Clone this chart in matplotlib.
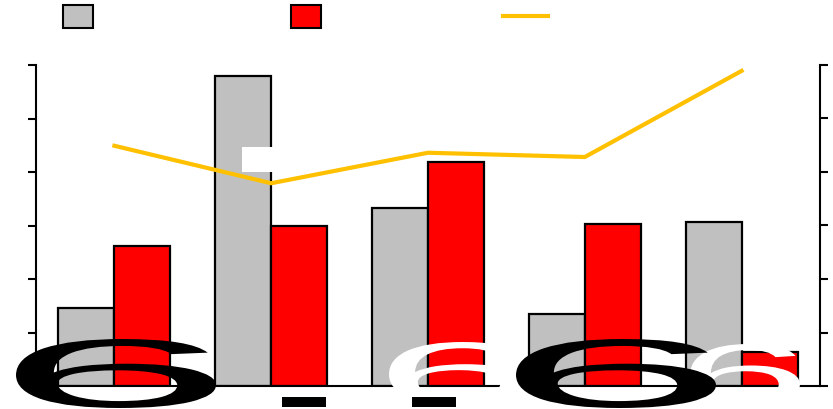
import numpy as np
import matplotlib.pyplot as plt
from matplotlib.patches import Rectangle, PathPatch
from matplotlib.textpath import TextPath
from matplotlib.font_manager import FontProperties
import matplotlib.transforms as mtransforms

# 数据
categories = ['1', '2', '3', '4', '5']
grey_vals = [14.6, 57.9, 33.3, 13.5, 30.7]
red_vals = [26.2, 29.9, 41.9, 30.3, 6.4]
line_vals = [4.49, 3.79, 4.36, 4.28, 5.89]

W, H = 833, 410
fig = plt.figure(figsize=(W / 100, H / 100), dpi=100)
fig.patch.set_facecolor('white')

def px_box(x0, y0, x1, y1):
    # 像素坐标（左上为原点）转为 figure 坐标
    return x0 / W, 1 - y1 / H, (x1 - x0) / W, (y1 - y0) / H

ax = fig.add_axes([36 / W, 1 - 387 / H, (820 - 36) / W, (387 - 66) / H])
ax2 = ax.twinx()

x = np.arange(len(categories))
bw = 0.357
ax.bar(x - bw / 2, grey_vals, width=bw, color='#C0C0C0', edgecolor='black', linewidth=1.6)
ax.bar(x + bw / 2, red_vals, width=bw, color='#FF0000', edgecolor='black', linewidth=1.6)
ax2.plot(x, line_vals, color='#FFC000', linewidth=3)

ax.set_xlim(-0.5, len(categories) - 0.5)
ax.set_ylim(0, 60)
ax2.set_ylim(0, 6)
ax.set_yticks(np.arange(0, 61, 10))
ax2.set_yticks(np.arange(0, 7, 1))
ax.set_xticks([])
for a in (ax, ax2):
    a.tick_params(axis='y', length=6, width=1.5, labelleft=False, labelright=False)
    a.spines['top'].set_visible(False)
    for s in ('left', 'right', 'bottom'):
        a.spines[s].set_linewidth(1.5)
ax.spines['right'].set_visible(False)
ax2.spines['left'].set_visible(False)
ax2.spines['bottom'].set_visible(False)
ax.set_zorder(1)
ax2.set_zorder(2)
ax.patch.set_visible(False)
ax2.patch.set_visible(False)

# 白色标注框
fig.add_artist(Rectangle(px_box(242, 148, 296, 173)[:2], 54 / W, 25 / H,
                         transform=fig.transFigure, facecolor='white', edgecolor='none', zorder=5))

# 图例
fig.add_artist(Rectangle(px_box(63, 6, 93, 29)[:2], 30 / W, 23 / H, transform=fig.transFigure,
                         facecolor='#C0C0C0', edgecolor='black', linewidth=1.5))
fig.add_artist(Rectangle(px_box(291, 6, 321, 29)[:2], 30 / W, 23 / H, transform=fig.transFigure,
                         facecolor='#FF0000', edgecolor='black', linewidth=1.5))
fig.add_artist(plt.Line2D([503 / W, 548 / W], [1 - 17 / H, 1 - 17 / H], transform=fig.transFigure,
                          color='#FFC000', linewidth=3))

# 底部的大号“6”字形（被拉伸）
fp = FontProperties(family='Liberation Sans')
def big_glyph(ch, x0, y0, x1, y1, color):
    tp = TextPath((0, 0), ch, size=1, prop=fp)
    ext = tp.get_extents()
    sx = (x1 - x0) / ext.width
    sy = (y1 - y0) / ext.height
    tr = (mtransforms.Affine2D().translate(-ext.x0, -ext.y0).scale(sx, sy)
          .translate(x0, H - y1))
    fig.add_artist(PathPatch(tr.transform_path(tp), transform=mtransforms.IdentityTransform(),
                             facecolor=color, edgecolor='none', zorder=10))

big_glyph('6', 389, 343, 527, 405, 'white')
big_glyph('6', 690, 345, 800, 405, 'white')
big_glyph('6', 16, 340, 216, 409, 'black')
big_glyph('6', 516, 340, 716, 409, 'black')
fig.add_artist(Rectangle(px_box(282, 398, 326, 408)[:2], 44 / W, 10 / H, transform=fig.transFigure,
                         facecolor='black', edgecolor='none', zorder=10))
fig.add_artist(Rectangle(px_box(412, 398, 456, 408)[:2], 44 / W, 10 / H, transform=fig.transFigure,
                         facecolor='black', edgecolor='none', zorder=10))

fig.savefig('out.png', dpi=100)
